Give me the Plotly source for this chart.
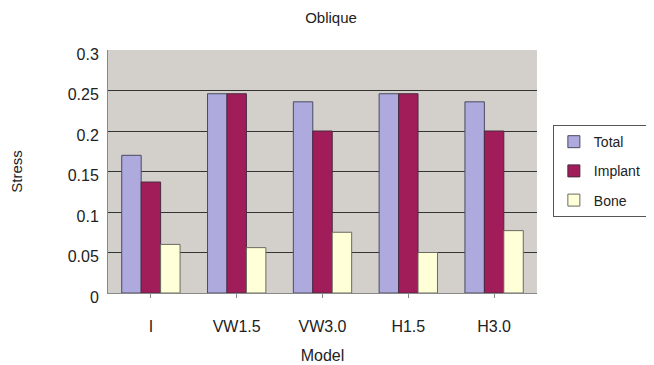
import plotly.graph_objects as go

models = ["I", "VW1.5", "VW3.0", "H1.5", "H3.0"]
total = [0.170, 0.246, 0.236, 0.246, 0.236]
implant = [0.137, 0.246, 0.200, 0.246, 0.200]
bone = [0.060, 0.056, 0.075, 0.050, 0.077]
y_ticks = [0, 0.05, 0.1, 0.15, 0.2, 0.25, 0.3]
y_labels = ["0", "0.05", "0.1", "0.15", "0.2", "0.25", "0.3"]

fig = go.Figure()
fig.add_bar(x=models, y=total, name="Total", legendgroup="a",
            marker=dict(color="#aeaade", line=dict(color="#4a4a60", width=1)))
fig.add_bar(x=models, y=implant, name="Implant", legendgroup="b",
            marker=dict(color="#a11d5a", line=dict(color="#4a2a40", width=1)))
fig.add_bar(x=models, y=bone, name="Bone", legendgroup="c",
            marker=dict(color="#ffffd8", line=dict(color="#6a6a60", width=1)))

# page body has an 8px default margin, so the figure is sized/shifted to compensate
fig.update_layout(
    width=646, height=357,
    margin=dict(l=100, r=117, t=42, b=72, autoexpand=False),
    paper_bgcolor="white",
    plot_bgcolor="#d3d0cc",
    barmode="group",
    bargap=0.32,
    bargroupgap=0,
    font=dict(family="Liberation Sans, Arial, sans-serif", size=15, color="#222"),
    title=dict(text="Oblique", x=0.5, xanchor="center", y=0.974, yanchor="middle", font=dict(size=15)),
    showlegend=True,
    legend=dict(x=1.037, y=0.691, xanchor="left", yanchor="top", bgcolor="white",
                bordercolor="#555", borderwidth=1, font=dict(size=14), itemwidth=30,
                tracegroupgap=8),
    xaxis=dict(title=dict(text="Model", standoff=15, font=dict(size=16)), showgrid=False, ticks="outside", ticklen=4,
               tickcolor="#888", showline=True, linecolor="#888", linewidth=1, automargin=False,
               tickfont=dict(size=16), ticklabelstandoff=15),
    yaxis=dict(title=dict(text="Stress", standoff=54, font=dict(size=15)), range=[0, 0.3], tickvals=y_ticks, ticktext=y_labels,
               showgrid=True, gridcolor="#333333", gridwidth=1.3, zeroline=False, automargin=False,
               showline=True, linecolor="#888", linewidth=1, tickfont=dict(size=16),
               ticklabelstandoff=5, ticklabelshift=4),
)
fig.write_html("out.html")
